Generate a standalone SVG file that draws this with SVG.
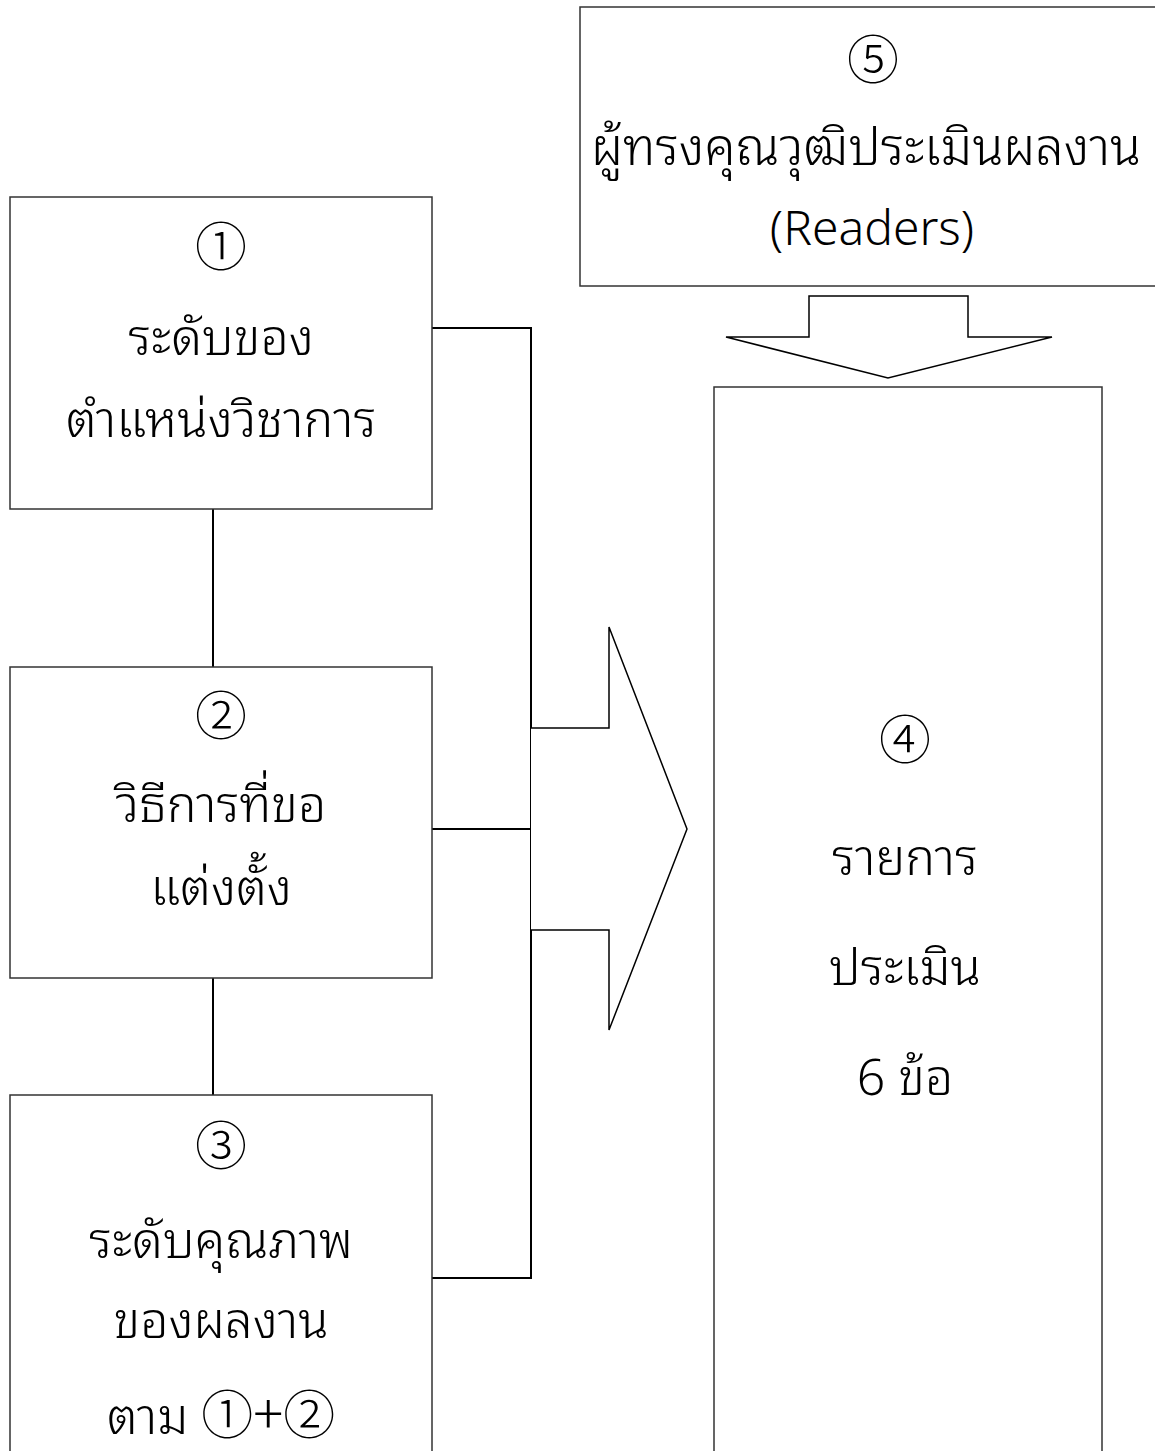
<svg xmlns="http://www.w3.org/2000/svg" width="1155" height="1451" viewBox="0 0 1155 1451">
<style>
.box{fill:#fff;stroke:#333;stroke-width:1.5}
.con{fill:none;stroke:#000;stroke-width:2}
.arrow{fill:#fff;stroke:#000;stroke-width:1.5}
.t{font-family:"Noto Sans","Noto Sans Thai Looped","Noto Sans Thai","Liberation Sans",sans-serif;font-size:50px;font-weight:300;fill:#000;text-anchor:middle}
.n{font-family:"Noto Sans CJK JP","DejaVu Serif",serif;font-size:52px;font-weight:300;fill:#000;text-anchor:middle}
.c{font-family:"Noto Sans CJK JP","DejaVu Serif",serif;font-weight:300}
</style>
<rect width="1155" height="1451" fill="#fff"/>
<g id="connectors">
<line class="con" x1="213" y1="509" x2="213" y2="667"/>
<line class="con" x1="213" y1="978" x2="213" y2="1095"/>
<polyline class="con" points="432,328 531,328 531,1278 432,1278"/>
<line class="con" x1="432" y1="829" x2="531" y2="829"/>
<polyline class="arrow" points="531,728 609,728 609,627 687,829 609,1030 609,930 531,930"/>
<polygon class="arrow" points="809,296 968,296 968,337 1052,337 888,378 726,337 809,337"/>
</g>
<g id="node1">
<rect class="box" x="10" y="197" width="422" height="312"/>
<text class="n" x="221" y="266">①</text>
<text class="t" x="221" y="355">ระดับของ</text>
<text class="t" x="221" y="437">ตำแหน่งวิชาการ</text>
</g>
<g id="node2">
<rect class="box" x="10" y="667" width="422" height="311"/>
<text class="n" x="221" y="735">②</text>
<text class="t" x="221" y="822">วิธีการที่ขอ</text>
<text class="t" x="221" y="905">แต่งตั้ง</text>
</g>
<g id="node3">
<rect class="box" x="10" y="1095" width="422" height="420"/>
<text class="n" x="221" y="1165">③</text>
<text class="t" x="221" y="1258">ระดับคุณภาพ</text>
<text class="t" x="221" y="1338">ของผลงาน</text>
<text class="t" x="221" y="1434"><tspan>ตาม </tspan><tspan class="c" font-size="52">①</tspan><tspan class="c" font-size="56">+</tspan><tspan class="c" font-size="52">②</tspan></text>
</g>
<g id="node4">
<rect class="box" x="714" y="387" width="388" height="1120"/>
<text class="n" x="905" y="759">④</text>
<text class="t" x="905" y="875">รายการ</text>
<text class="t" x="905" y="985">ประเมิน</text>
<text class="t" x="905" y="1095">6 ข้อ</text>
</g>
<g id="node5">
<rect class="box" x="580" y="7" width="600" height="279"/>
<text class="n" x="873" y="79">⑤</text>
<text class="t" x="866" y="165" style="font-size:51px">ผู้ทรงคุณวุฒิประเมินผลงาน</text>
<text class="t" x="872" y="245" style="font-size:48px">(Readers)</text>
</g>
</svg>
